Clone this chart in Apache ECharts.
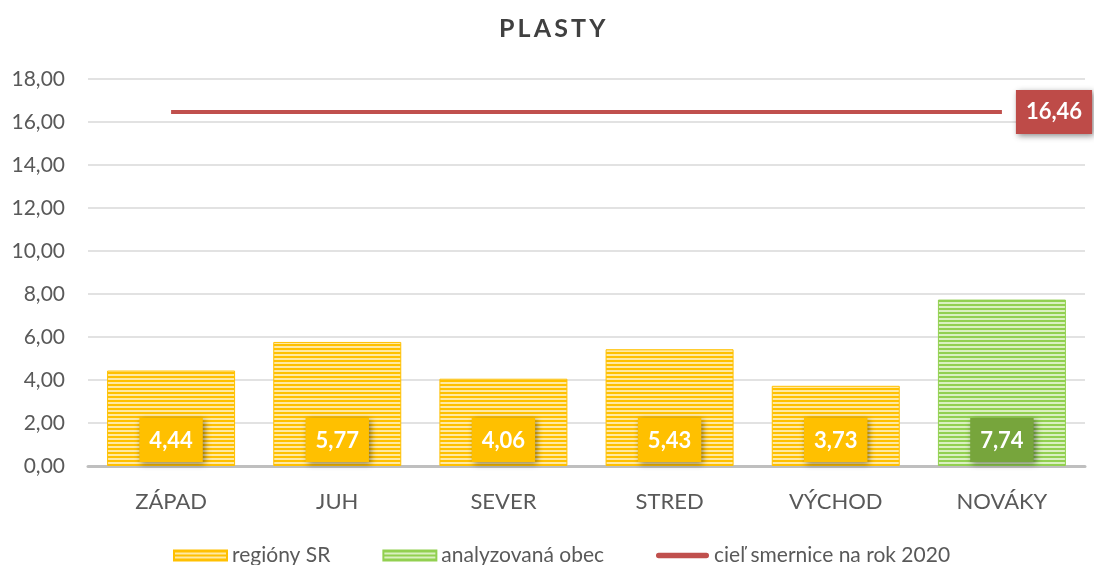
<!DOCTYPE html>
<html>
<head>
<meta charset="utf-8">
<script src="https://cdn.jsdelivr.net/npm/echarts@6/dist/echarts.min.js"></script>
<style>
  html, body { margin: 0; padding: 0; background: #fff; }
  #chart { width: 1094px; height: 565px; }
</style>
</head>
<body>
<div id="chart"></div>
<script>
// údaje
const categories = ['ZÁPAD', 'JUH', 'SEVER', 'STRED', 'VÝCHOD', 'NOVÁKY'];
const regionValues = [4.44, 5.77, 4.06, 5.43, 3.73, '-'];
const obecValues = ['-', '-', '-', '-', '-', 7.74];
const targetValues = [16.46, 16.46, 16.46, 16.46, 16.46, 16.46];
const yTicks = { min: 0, max: 18, interval: 2 };

const fontFamily = 'Lato, "Open Sans", sans-serif';
const fmt = v => Number(v).toFixed(2).replace('.', ',');

// pruhovaná výplň stĺpcov
function stripes(dark, light) {
  const c = document.createElement('canvas');
  c.width = 4; c.height = 4;
  const ctx = c.getContext('2d');
  ctx.fillStyle = dark; ctx.fillRect(0, 0, 4, 4);
  ctx.fillStyle = light; ctx.fillRect(0, 2, 4, 2);
  return { image: c, repeat: 'repeat' };
}
const yellowFill = stripes('#FFC000', '#FFE9A3');
const greenFill = stripes('#92D050', '#DAF0C0');

const labelShadow = {
  shadowBlur: 6, shadowColor: 'rgba(0,0,0,0.45)', shadowOffsetX: 2, shadowOffsetY: 2
};
const boxLabel = {
  fontFamily, fontSize: 22, fontWeight: 'bold', color: '#fff',
  padding: [12, 10, 10, 10],
  ...labelShadow
};

const chart = echarts.init(document.getElementById('chart'));
chart.setOption({
  animation: false,
  title: {
    text: 'P\u2009L\u2009A\u2009S\u2009T\u2009Y',
    left: 494,
    top: 11,
    textStyle: { fontFamily, fontSize: 25, fontWeight: 'bold', color: '#404040' }
  },
  grid: { left: 88, right: 9, top: 79, bottom: 99 },
  legend: {
    top: 540,
    left: 168,
    itemGap: 52,
    itemWidth: 53,
    itemHeight: 10,
    textStyle: { fontFamily, fontSize: 21, color: '#595959' },
    data: [
      { name: 'regióny SR', icon: 'rect' },
      { name: 'analyzovaná obec', icon: 'rect' },
      { name: 'cieľ smernice na rok 2020', icon: 'path://M5,0 L95,0 A5,5 0 0 1 95,10 L5,10 A5,5 0 0 1 5,0 Z', itemStyle: { color: '#C0504D' } }
    ]
  },
  xAxis: {
    type: 'category',
    data: categories,
    axisTick: { show: false },
    axisLine: { lineStyle: { color: '#BFBFBF', width: 3 } },
    axisLabel: { fontFamily, fontSize: 22, color: '#595959', margin: 25 }
  },
  yAxis: {
    type: 'value',
    min: yTicks.min,
    max: yTicks.max,
    interval: yTicks.interval,
    axisLine: { show: false },
    axisTick: { show: false },
    splitLine: { lineStyle: { color: '#D9D9D9', width: 1.5 } },
    axisLabel: { fontFamily, fontSize: 21, color: '#595959', margin: 23, formatter: fmt }
  },
  series: [
    {
      name: 'regióny SR',
      type: 'bar',
      data: regionValues,
      barWidth: 128,
      barGap: '-100%',
      itemStyle: { color: yellowFill, borderColor: '#FFC000', borderWidth: 1 },
      label: {
        show: true,
        position: 'insideBottom',
        distance: 4,
        formatter: p => fmt(p.value),
        backgroundColor: '#FFC000',
        ...boxLabel
      }
    },
    {
      name: 'analyzovaná obec',
      type: 'bar',
      data: obecValues,
      barWidth: 128,
      itemStyle: { color: greenFill, borderColor: '#92D050', borderWidth: 1 },
      label: {
        show: true,
        position: 'insideBottom',
        distance: 4,
        formatter: p => fmt(p.value),
        backgroundColor: '#77A53C',
        ...boxLabel
      }
    },
    {
      name: 'cieľ smernice na rok 2020',
      type: 'line',
      data: targetValues,
      symbol: 'none',
      lineStyle: { color: '#C0504D', width: 4 },
      itemStyle: { color: '#C0504D' },
      endLabel: {
        show: true,
        distance: 14,
        formatter: p => fmt(p.value),
        backgroundColor: '#BE4B48',
        ...boxLabel
      }
    }
  ]
});
</script>
</body>
</html>
